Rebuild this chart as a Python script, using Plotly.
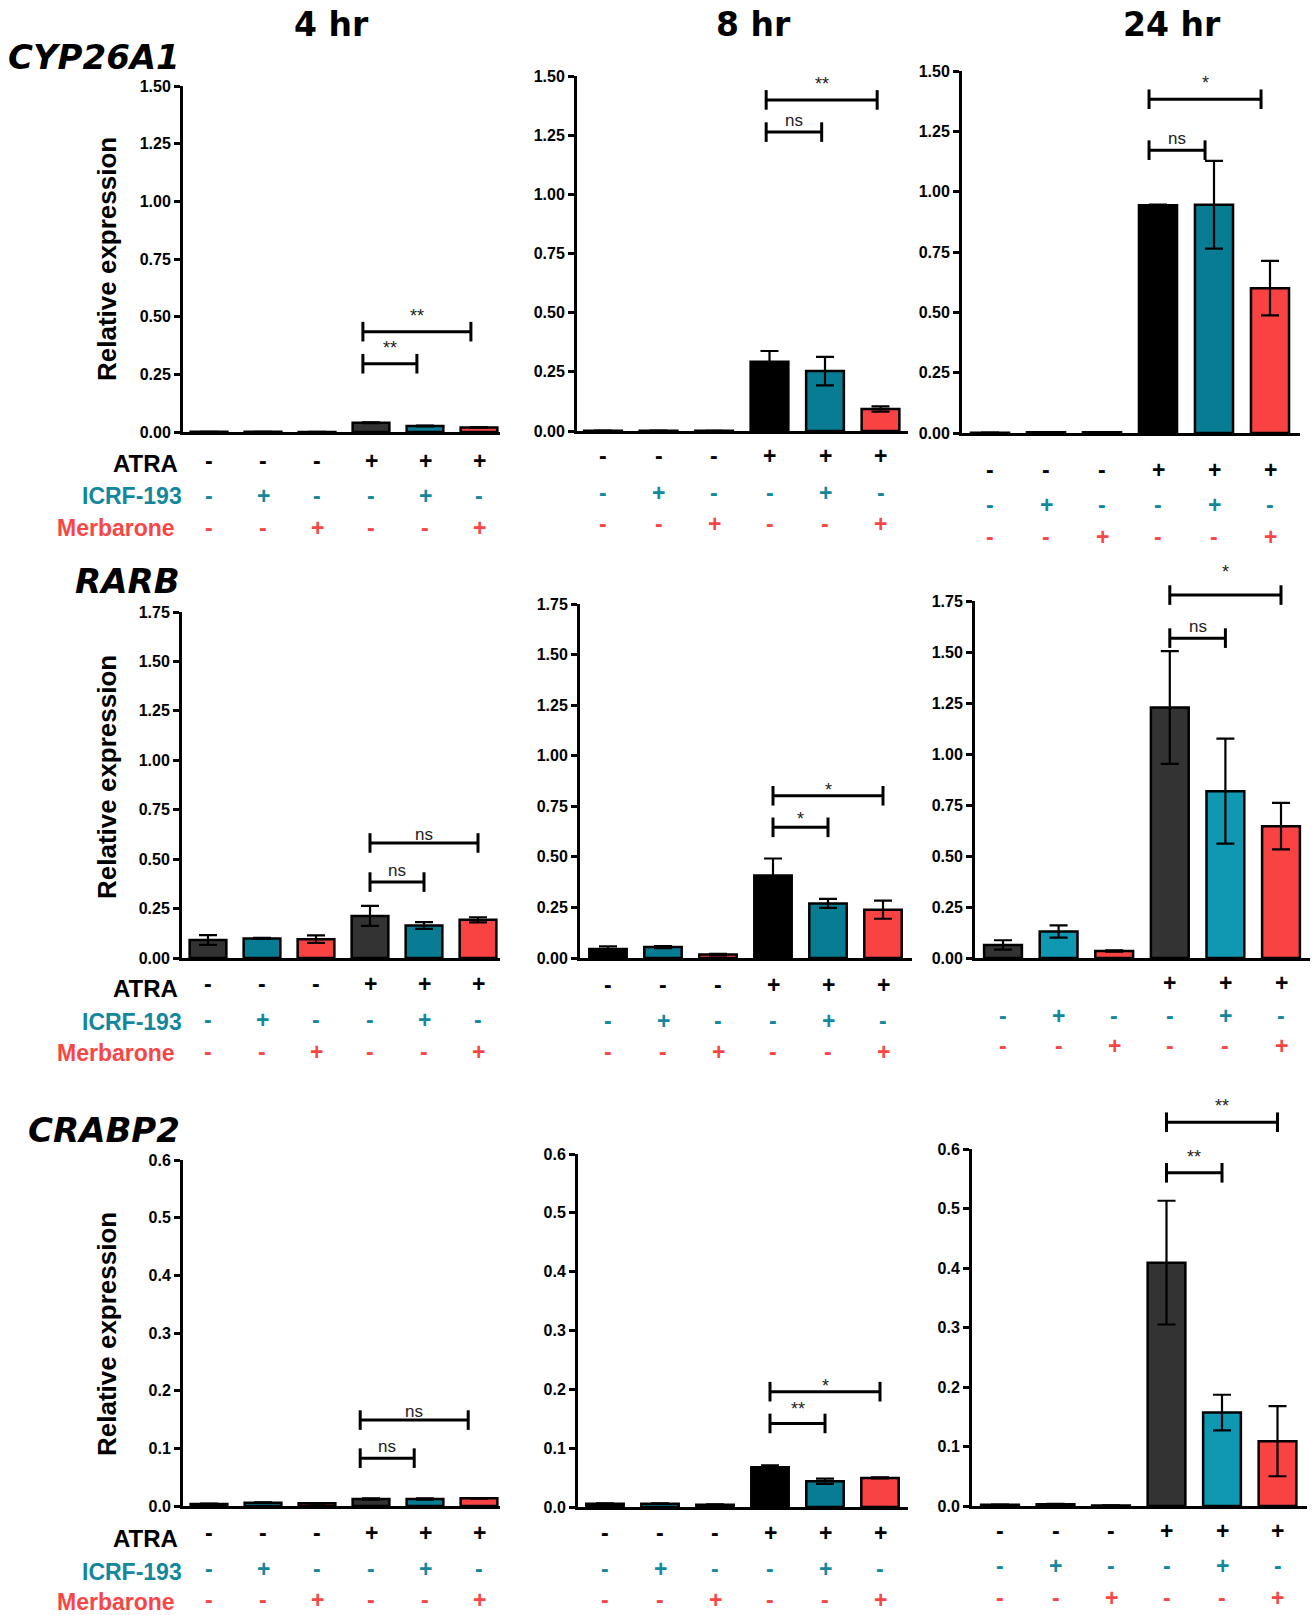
import plotly.graph_objects as go

W, H = 1316, 1615

# ---------------------------------------------------------------- data
time_points = ["4 hr", "8 hr", "24 hr"]
genes = ["CYP26A1", "RARB", "CRABP2"]
treatments = ["Control", "ICRF-193", "Merbarone", "ATRA", "ATRA + ICRF-193", "ATRA + Merbarone"]
row_names = ["ATRA", "ICRF-193", "Merbarone"]
atra_row = ["-", "-", "-", "+", "+", "+"]
icrf_row = ["-", "+", "-", "-", "+", "-"]
merb_row = ["-", "-", "+", "-", "-", "+"]

# mean relative expression and SEM, one list per gene / time point
cyp26a1_4h = [0.0008, 0.0006, 0.0005, 0.040, 0.026, 0.020]
cyp26a1_4h_err = [0.0003, 0.0002, 0.0002, 0.002, 0.002, 0.001]
cyp26a1_8h = [0.001, 0.001, 0.0008, 0.293, 0.253, 0.093]
cyp26a1_8h_err = [0.0003, 0.0003, 0.0002, 0.045, 0.060, 0.011]
cyp26a1_24h = [0.001, 0.003, 0.003, 0.944, 0.946, 0.600]
cyp26a1_24h_err = [0.0005, 0.001, 0.001, 0.002, 0.182, 0.113]

rarb_4h = [0.091, 0.099, 0.095, 0.213, 0.164, 0.193]
rarb_4h_err = [0.025, 0.003, 0.019, 0.051, 0.017, 0.013]
rarb_8h = [0.044, 0.054, 0.017, 0.408, 0.270, 0.239]
rarb_8h_err = [0.013, 0.005, 0.004, 0.084, 0.022, 0.045]
rarb_24h = [0.064, 0.130, 0.034, 1.228, 0.818, 0.646]
rarb_24h_err = [0.023, 0.030, 0.003, 0.276, 0.257, 0.114]

crabp2_4h = [0.0035, 0.0058, 0.0046, 0.0122, 0.0122, 0.0133]
crabp2_4h_err = [0.0005, 0.0005, 0.0005, 0.001, 0.001, 0.0005]
crabp2_8h = [0.0057, 0.0057, 0.004, 0.0676, 0.0438, 0.0494]
crabp2_8h_err = [0.0005, 0.0005, 0.0003, 0.003, 0.0045, 0.001]
crabp2_24h = [0.002, 0.003, 0.001, 0.409, 0.157, 0.109]
crabp2_24h_err = [0.0005, 0.0005, 0.0003, 0.104, 0.030, 0.059]

# significance: [ATRA vs ATRA+ICRF-193, ATRA vs ATRA+Merbarone]
sig_cyp26a1_4h, sig_cyp26a1_4h_level = ["**", "**"], [0.296, 0.435]
sig_cyp26a1_8h, sig_cyp26a1_8h_level = ["ns", "**"], [1.263, 1.399]
sig_cyp26a1_24h, sig_cyp26a1_24h_level = ["ns", "*"], [1.172, 1.383]
sig_rarb_4h, sig_rarb_4h_level = ["ns", "ns"], [0.384, 0.582]
sig_rarb_8h, sig_rarb_8h_level = ["*", "*"], [0.646, 0.802]
sig_rarb_24h, sig_rarb_24h_level = ["ns", "*"], [1.568, 1.779]
sig_crabp2_4h, sig_crabp2_4h_level = ["ns", "ns"], [0.083, 0.149]
sig_crabp2_8h, sig_crabp2_8h_level = ["**", "*"], [0.142, 0.196]
sig_crabp2_24h, sig_crabp2_24h_level = ["**", "**"], [0.560, 0.645]

# ---------------------------------------------------------------- styling
TEAL = "#077C93"
TEAL_LIGHT = "#1098B2"
RED = "#F94343"
GRAY = "#333333"
BLACK = "#000000"
TEAL_TXT = "#13879B"
RED_TXT = "#F84646"
LABEL_FONT = "Liberation Sans"
TITLE_FONT = "DejaVu Sans"

pal_gray = [GRAY, TEAL, RED]
pal_black = [BLACK, TEAL, RED]
pal_light = [GRAY, TEAL_LIGHT, RED]

# subplot geometry in pixels: y-axis x, first bar centre, bar spacing,
# x-axis end, top tick y, zero y, sign rows y; bshift moves brackets sideways,
# lift raises each bracket label (pixels)
panels = [
    dict(v=cyp26a1_4h, e=cyp26a1_4h_err, s=sig_cyp26a1_4h, sl=sig_cyp26a1_4h_level,
         left=183, c1=209, sp=54, right=500, top=86, zero=432, ymax=1.5, dtick=0.25, fmt=".2f",
         rows=(461, 496, 528), pal=pal_gray, atra_minus=True, bshift=-0.15, lift=(4, 4)),
    dict(v=cyp26a1_8h, e=cyp26a1_8h_err, s=sig_cyp26a1_8h, sl=sig_cyp26a1_8h_level,
         left=577, c1=603, sp=55.5, right=908, top=76, zero=431, ymax=1.5, dtick=0.25, fmt=".2f",
         rows=(456, 493, 524), pal=pal_black, atra_minus=True, bshift=-0.06, lift=(0, 4)),
    dict(v=cyp26a1_24h, e=cyp26a1_24h_err, s=sig_cyp26a1_24h, sl=sig_cyp26a1_24h_level,
         left=962, c1=990, sp=56, right=1300, top=71, zero=433, ymax=1.5, dtick=0.25, fmt=".2f",
         rows=(470, 505, 537), pal=pal_black, atra_minus=True, bshift=-0.16, lift=(0, 4)),
    dict(v=rarb_4h, e=rarb_4h_err, s=sig_rarb_4h, sl=sig_rarb_4h_level,
         left=182, c1=208, sp=54, right=500, top=612, zero=958, ymax=1.75, dtick=0.25, fmt=".2f",
         rows=(984, 1020, 1052), pal=pal_gray, atra_minus=True, bshift=0.0, lift=(0, -3)),
    dict(v=rarb_8h, e=rarb_8h_err, s=sig_rarb_8h, sl=sig_rarb_8h_level,
         left=580, c1=608, sp=55, right=912, top=604, zero=958, ymax=1.75, dtick=0.25, fmt=".2f",
         rows=(985, 1021, 1052), pal=pal_black, atra_minus=True, bshift=0.0, lift=(-4, -6)),
    dict(v=rarb_24h, e=rarb_24h_err, s=sig_rarb_24h, sl=sig_rarb_24h_level,
         left=975, c1=1003, sp=55.6, right=1310, top=601, zero=958, ymax=1.75, dtick=0.25, fmt=".2f",
         rows=(983, 1016, 1046), pal=pal_light, atra_minus=False, bshift=0.0, lift=(0, 11)),
    dict(v=crabp2_4h, e=crabp2_4h_err, s=sig_crabp2_4h, sl=sig_crabp2_4h_level,
         left=183, c1=209, sp=54, right=500, top=1160, zero=1506, ymax=0.6, dtick=0.1, fmt=".1f",
         rows=(1533, 1569, 1600), pal=pal_gray, atra_minus=True, bshift=-0.2, lift=(0, -3)),
    dict(v=crabp2_8h, e=crabp2_8h_err, s=sig_crabp2_8h, sl=sig_crabp2_8h_level,
         left=578, c1=605, sp=55, right=908, top=1154, zero=1507, ymax=0.6, dtick=0.1, fmt=".1f",
         rows=(1533, 1569, 1600), pal=pal_black, atra_minus=True, bshift=0.0, lift=(2, -6)),
    dict(v=crabp2_24h, e=crabp2_24h_err, s=sig_crabp2_24h, sl=sig_crabp2_24h_level,
         left=972, c1=1000, sp=55.5, right=1307, top=1149, zero=1506, ymax=0.6, dtick=0.1, fmt=".1f",
         rows=(1531, 1566, 1598), pal=pal_light, atra_minus=True, bshift=0.0, lift=(4, 4)),
]


def px_x(p):
    return p / W


def px_y(p):
    return 1 - p / H


def ax_name(i):
    return "" if i == 1 else str(i)


fig = go.Figure()
annotations = []
layout_axes = {}
n = len(panels)

for k, p in enumerate(panels, start=1):
    xa, ya = "x" + ax_name(k), "y" + ax_name(k)
    kb = k + n
    xb, yb = "x" + ax_name(kb), "y" + ax_name(kb)

    xrange = [(p["left"] - p["c1"]) / p["sp"], (p["right"] - p["c1"]) / p["sp"]]
    xdom = [px_x(p["left"]), px_x(p["right"])]
    ydom = [px_y(p["zero"]), px_y(p["top"])]

    colors = [p["pal"][0], p["pal"][1], p["pal"][2], p["pal"][0], p["pal"][1], p["pal"][2]]
    fig.add_trace(go.Bar(
        x=list(range(len(treatments))), y=p["v"], customdata=treatments,
        marker=dict(color=colors, line=dict(color="black", width=2.5)),
        width=0.68,
        error_y=dict(type="data", array=p["e"], color="black", thickness=2.2, width=9),
        xaxis=xa, yaxis=ya, showlegend=False,
        hovertemplate="%{customdata}: %{y:.3f}<extra></extra>",
    ))

    layout_axes["xaxis" + ax_name(k)] = dict(
        domain=xdom, range=xrange, anchor=ya, showticklabels=False, ticks="",
        showgrid=False, zeroline=False, showline=True, linecolor="black", linewidth=3,
        automargin=False,
    )
    layout_axes["yaxis" + ax_name(k)] = dict(
        domain=ydom, range=[0, p["ymax"]], anchor=xa, dtick=p["dtick"], tick0=0,
        tickformat=p["fmt"], ticks="outside", ticklen=6, tickwidth=2.5, tickcolor="black",
        showgrid=False, zeroline=False, showline=True, linecolor="black", linewidth=3,
        tickfont=dict(family=LABEL_FONT, size=16, color="black", weight="bold"),
        automargin=False,
    )

    # overlay axes with the same scale, extended upward, for significance brackets
    ext = min(60, p["top"] - 2)
    ymax_ext = p["ymax"] * (p["zero"] - p["top"] + ext) / (p["zero"] - p["top"])
    layout_axes["xaxis" + ax_name(kb)] = dict(domain=xdom, range=xrange, anchor=yb,
                                              visible=False, automargin=False)
    layout_axes["yaxis" + ax_name(kb)] = dict(
        domain=[ydom[0], px_y(p["top"] - ext)], range=[0, ymax_ext], anchor=xb,
        visible=False, automargin=False)

    for (x0, x1), label, level, lift in zip([(3, 4), (3, 5)], p["s"], p["sl"], p["lift"]):
        bx0, bx1 = x0 + p["bshift"], x1 + p["bshift"]
        fig.add_trace(go.Scatter(
            x=[bx0, bx1], y=[level, level], mode="lines+markers",
            line=dict(color="black", width=3),
            marker=dict(symbol="line-ns", size=14, line=dict(color="black", width=3)),
            xaxis=xb, yaxis=yb, showlegend=False, hoverinfo="skip",
        ))
        star = "*" in label
        annotations.append(dict(
            x=(bx0 + bx1) / 2, y=level, xref=xb, yref=yb, text=label, showarrow=False,
            xanchor="center", yanchor="bottom", yshift=lift,
            font=dict(family=LABEL_FONT, size=18 if star else 17, color="#222222"),
        ))

    # treatment sign rows
    for r, (row, color) in enumerate(zip([atra_row, icrf_row, merb_row], [BLACK, TEAL_TXT, RED_TXT])):
        for i, sign in enumerate(row):
            if r == 0 and sign == "-" and not p["atra_minus"]:
                continue
            annotations.append(dict(
                x=i, y=px_y(p["rows"][r]), xref=xa, yref="paper", text="<b>%s</b>" % sign,
                showarrow=False, xanchor="center", yanchor="middle",
                font=dict(family=LABEL_FONT, size=23, color=color),
            ))

# time point headers
for t, cx in zip(time_points, [331, 753, 1172]):
    annotations.append(dict(
        x=px_x(cx), y=px_y(25), xref="paper", yref="paper", text="<b>%s</b>" % t,
        showarrow=False, xanchor="center", yanchor="middle",
        font=dict(family=TITLE_FONT, size=33, color="black"),
    ))

# gene names and y-axis titles, first column
for g, gy, ty in zip(genes, [57, 581, 1130], [259, 777, 1334]):
    annotations.append(dict(
        x=px_x(182), y=px_y(gy), xref="paper", yref="paper", xanchor="right", yanchor="middle",
        text="<b><i>%s</i></b>" % g, showarrow=False,
        font=dict(family=TITLE_FONT, size=34, color="black"),
    ))
    annotations.append(dict(
        x=px_x(107), y=px_y(ty), xref="paper", yref="paper", textangle=-90,
        xanchor="center", yanchor="middle",
        text="<b>Relative expression</b>", showarrow=False,
        font=dict(family=LABEL_FONT, size=26, color="black"),
    ))

# row labels, first column of each gene
for base in [(463, 496, 528), (988, 1022, 1053), (1538, 1572, 1602)]:
    for name, yy, right, color in zip(row_names, base, [180, 184, 177], [BLACK, TEAL_TXT, RED_TXT]):
        annotations.append(dict(
            x=px_x(right), y=px_y(yy), xref="paper", yref="paper", xanchor="right",
            yanchor="middle", text="<b>%s</b>" % name, showarrow=False,
            font=dict(family=LABEL_FONT, size=24 if name == "ATRA" else 23, color=color),
        ))

fig.update_layout(
    width=W, height=H, autosize=False, margin=dict(l=0, r=0, t=0, b=0, pad=0),
    paper_bgcolor="white", plot_bgcolor="rgba(0,0,0,0)",
    annotations=annotations, showlegend=False, bargap=0.32,
    **layout_axes,
)

fig.write_html("out.html")
